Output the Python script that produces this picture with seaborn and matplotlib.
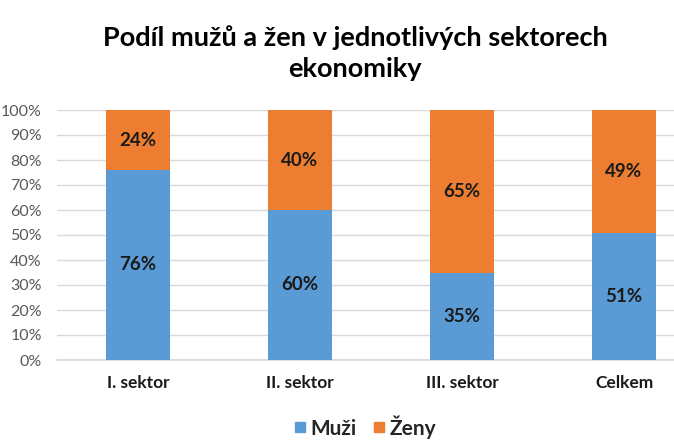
import matplotlib
matplotlib.use("Agg")
import matplotlib.pyplot as plt
from matplotlib.lines import Line2D
import seaborn as sns
import pandas as pd

categories = ["I. sektor", "II. sektor", "III. sektor", "Celkem"]
muzi = [76, 60, 35, 51]
zeny = [24, 40, 65, 49]
yticks = [0, 10, 20, 30, 40, 50, 60, 70, 80, 90, 100]

BLUE = "#5B9BD5"
ORANGE = "#ED7D31"

sns.set_theme(style="white")
plt.rcParams["font.family"] = ["Lato", "DejaVu Sans"]

df = pd.DataFrame({"sektor": categories, "Muži": muzi, "Ženy": zeny})
df["total"] = df["Muži"] + df["Ženy"]

fig = plt.figure(figsize=(6.74, 4.47), dpi=100)
ax = fig.add_axes([57/674, 87/447, 648/674, 250/447])

sns.barplot(data=df, x="sektor", y="total", color=ORANGE, saturation=1,
            width=0.4, ax=ax, zorder=2, linewidth=0, edgecolor="none")
sns.barplot(data=df, x="sektor", y="Muži", color=BLUE, saturation=1,
            width=0.4, ax=ax, zorder=3, linewidth=0, edgecolor="none")

for i, (m, z) in enumerate(zip(muzi, zeny)):
    ax.text(i, m / 2, f"{m}%", ha="center", va="center", fontsize=13.5,
            fontweight="bold", color="#1a1a1a", zorder=5)
    ax.text(i, m + z / 2, f"{z}%", ha="center", va="center", fontsize=13.5,
            fontweight="bold", color="#1a1a1a", zorder=5)

ax.set_ylim(0, 100)
ax.set_xlim(-0.5, len(categories) - 0.5)
ax.set_yticks(yticks)
ax.set_yticklabels([f"{t}%" for t in yticks], fontsize=11.5, color="#595959")
ax.set_xticks(range(len(categories)))
ax.set_xticklabels(categories, fontsize=12.5, fontweight="bold", color="#1a1a1a")
ax.tick_params(axis="x", length=0, pad=11)
ax.tick_params(axis="y", length=0, pad=11)
ax.set_xlabel("")
ax.set_ylabel("")
ax.yaxis.grid(True, color="#D9D9D9", linewidth=1, zorder=0)
ax.set_axisbelow(True)
for s in ["top", "right", "left"]:
    ax.spines[s].set_visible(False)
ax.spines["bottom"].set_color("#D9D9D9")

fig.text(355/674, 1 - 53/447, "Podíl mužů a žen v jednotlivých sektorech\nekonomiky",
         ha="center", va="center", fontsize=19.5, fontweight="bold",
         color="#000000", linespacing=1.32)

handles = [Line2D([], [], marker="s", linestyle="none", markersize=7.5,
                  markerfacecolor=BLUE, markeredgecolor=BLUE, label="Muži"),
           Line2D([], [], marker="s", linestyle="none", markersize=7.5,
                  markerfacecolor=ORANGE, markeredgecolor=ORANGE, label="Ženy")]
fig.legend(handles=handles, loc="center", bbox_to_anchor=(364/674, 1 - 427/447),
           ncol=2, frameon=False, prop={"size": 15, "weight": "bold"},
           handletextpad=0.1, columnspacing=0.7, handlelength=0.8)

fig.savefig("out.png", dpi=100)
